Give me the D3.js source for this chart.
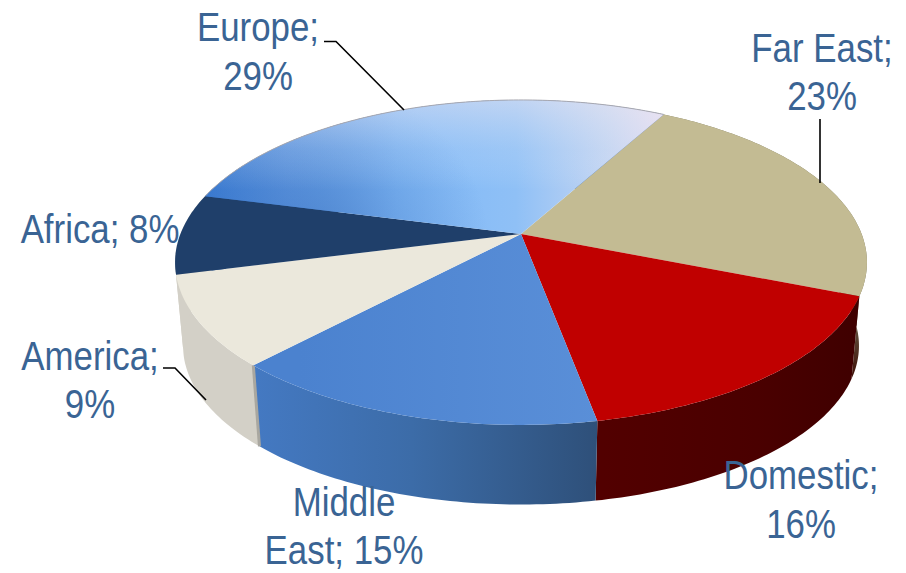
<!DOCTYPE html>
<html>
<head>
<meta charset="utf-8">
<script src="https://cdnjs.cloudflare.com/ajax/libs/d3/7.8.5/d3.min.js"></script>
<style>
html,body{margin:0;padding:0;background:#fff}
svg{display:block}
text{font-family:"Liberation Sans",Arial,sans-serif;font-size:41px;fill:#3a6494;text-anchor:middle}
</style>
</head>
<body>
<svg id="chart" width="906" height="573"></svg>
<script>
// Revenue share by region, clockwise from the Far East slice
const regions = ["Far East", "Domestic", "Middle East", "America", "Africa", "Europe"];
const shares = [23, 16, 15, 9, 8, 29];
const topColors = ["#c3bb93", "#c00000", "url(#topMiddleEast)", "#ebe8dc", "#1f3f6a", "url(#topEurope)"];
const sideColors = ["url(#sideFarEast)", "url(#sideDomestic)", "url(#sideMiddleEast)", "#d3d0c7", "#d3d0c7", "#2f5f9f"];

// Label lines with anchor position
const labelLines = [
  [["Far East;", 822, 62], ["23%", 822, 110]],
  [["Domestic;", 801, 489], ["16%", 801, 538]],
  [["Middle", 344, 516], ["East; 15%", 344, 564]],
  [["America;", 90, 370], ["9%", 90, 418]],
  [["Africa; 8%", 100, 243]],
  [["Europe;", 258, 41], ["29%", 258, 90]]
];
const narrowing = 0.85;
const leaders = [
  [[820, 119], [820, 183]],
  [[163, 368], [175, 368], [206, 400]],
  [[324, 41.5], [336, 41.5], [404, 110]]
];

// Pie plane seen in perspective
const view = {cx: 521, cy: 234, fx: 340.6, fy: 157.5, k: 0.175, depth: 84, shrink: 0.977};
const firstAngle = 28.9 * Math.PI / 180;

const rim = a => {
  const u = Math.sin(a), v = -Math.cos(a), d = 1 - view.k * v;
  return [view.cx + view.fx * u / d, view.cy + view.fy * v / d];
};
const lower = ([x, y]) => [
  view.cx + (x - view.cx) * view.shrink,
  view.cy + view.depth + (y - view.cy) * view.shrink
];
const arcPoints = (a0, a1) => {
  const n = Math.max(4, Math.ceil((a1 - a0) * 60));
  return d3.range(n + 1).map(i => rim(a0 + (a1 - a0) * i / n));
};

const slices = d3.pie().sort(null).value(d => d)
  .startAngle(firstAngle).endAngle(firstAngle + 2 * Math.PI)(shares);

const svg = d3.select("#chart");
const defs = svg.append("defs");
const linear = (id, coords, stops) => {
  const g = defs.append("linearGradient").attr("id", id).attr("gradientUnits", "userSpaceOnUse")
    .attr("x1", coords[0]).attr("y1", coords[1]).attr("x2", coords[2]).attr("y2", coords[3]);
  stops.forEach(([o, c, op]) => g.append("stop").attr("offset", o).attr("stop-color", c).attr("stop-opacity", op === undefined ? 1 : op));
};
linear("topEurope", [205, 0, 662, 0], [
  [0, "#3c7dd4"], [0.18, "#629ce6"], [0.42, "#7fb8f7"], [0.68, "#8fc0f6"], [0.88, "#c2d4f2"], [1, "#e4ddf2"]
]);
linear("europeSheen", [0, 100, 0, 190], [[0, "#f0e8f0", 0.5], [0.55, "#dfe6f4", 0.18], [1, "#ffffff", 0]]);
linear("topMiddleEast", [300, 0, 600, 0], [[0, "#4b82cf"], [1, "#5a8fd8"]]);
linear("sideMiddleEast", [255, 0, 603, 0], [[0, "#4479c2"], [0.45, "#3c6ca8"], [1, "#2e4f78"]]);
linear("sideDomestic", [603, 0, 860, 0], [[0, "#520000"], [0.6, "#4a0000"], [1, "#3f0000"]]);
linear("sideFarEast", [0, 290, 0, 375], [[0, "#77755c"], [0.5, "#5c4a38"], [1, "#3f1208"]]);
const shade = defs.append("radialGradient").attr("id", "europeShade").attr("gradientUnits", "userSpaceOnUse")
  .attr("cx", 320).attr("cy", 250).attr("r", 170);
shade.append("stop").attr("offset", 0).attr("stop-color", "#1c4f9f").attr("stop-opacity", 0.38);
shade.append("stop").attr("offset", 1).attr("stop-color", "#1c4f9f").attr("stop-opacity", 0);

const path = d3.line().curve(d3.curveLinear);
const wedge = s => path([[view.cx, view.cy], ...arcPoints(s.startAngle, s.endAngle)]) + "Z";
const wall = s => {
  const top = arcPoints(s.startAngle, s.endAngle);
  return path([...top, ...top.map(lower).reverse()]) + "Z";
};

// Walls first, then the top faces hide whatever lies behind them
svg.append("g").selectAll("path").data(slices).join("path")
  .attr("d", wall)
  .attr("fill", (d, i) => sideColors[i]);

// Pale seam where the America wall meets the Middle East wall
const seam = rim(slices[2].endAngle);
svg.append("path").attr("d", path([seam, lower(seam)]))
  .attr("stroke", "#a9a7a0").attr("stroke-width", 3).attr("fill", "none");

const faces = svg.append("g");
faces.selectAll("path").data(slices).join("path")
  .attr("d", wedge)
  .attr("fill", (d, i) => topColors[i]);

// Extra lighting across the Europe slice
const europe = slices[5];
faces.append("path").attr("d", wedge(europe)).attr("fill", "url(#europeShade)");
faces.append("path").attr("d", wedge(europe)).attr("fill", "url(#europeSheen)");

// Thin grey edge along the back of the pie
svg.append("path").attr("d", path(arcPoints(europe.startAngle, europe.endAngle)))
  .attr("fill", "none").attr("stroke", "#a8a8b0").attr("stroke-width", 1);

svg.append("g").selectAll("path").data(leaders).join("path")
  .attr("d", d => path(d))
  .attr("fill", "none").attr("stroke", "#000").attr("stroke-width", 1.6);

svg.append("g").selectAll("text").data(labelLines.flat()).join("text")
  .attr("transform", d => `translate(${d[1]},${d[2]}) scale(${narrowing},1)`)
  .text(d => d[0]);
</script>
</body>
</html>
